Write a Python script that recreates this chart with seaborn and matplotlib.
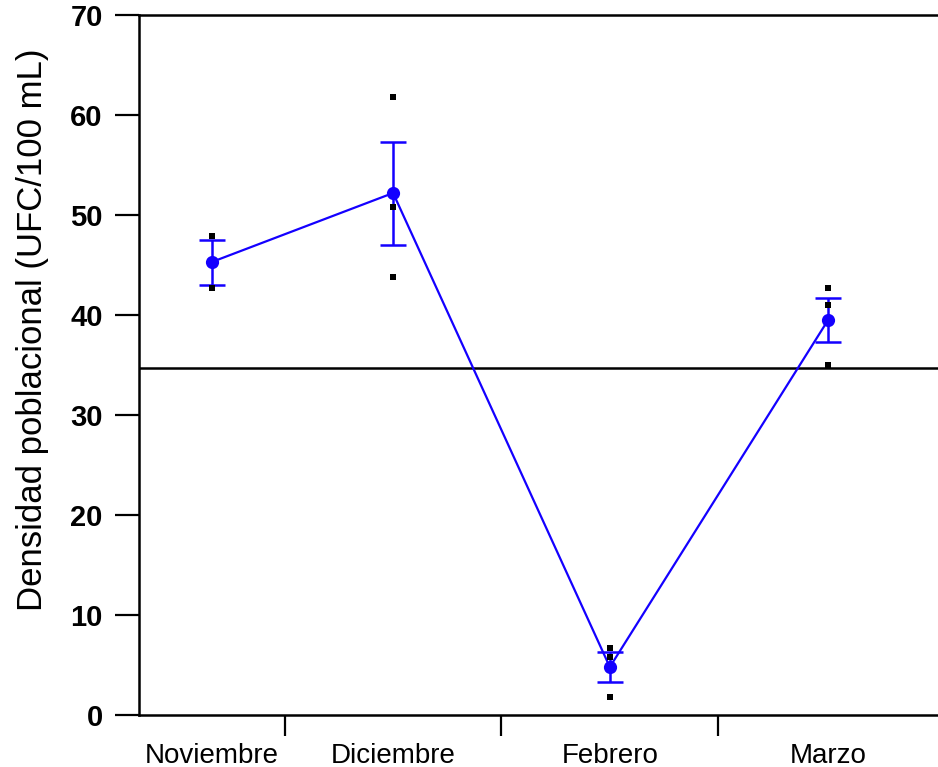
import matplotlib
matplotlib.use("Agg")
import matplotlib.pyplot as plt
import numpy as np
import pandas as pd
import seaborn as sns

# Muestreos mensuales
meses = ["Noviembre", "Diciembre", "Febrero", "Marzo"]
media = [45.3, 52.2, 4.8, 39.5]
error_est = [2.25, 5.15, 1.5, 2.2]
obs_mes = ["Noviembre", "Noviembre", "Diciembre", "Diciembre", "Diciembre",
           "Febrero", "Febrero", "Febrero", "Marzo", "Marzo", "Marzo"]
obs_valor = [47.9, 42.7, 61.8, 50.8, 43.8, 6.7, 5.8, 1.8, 42.7, 41.0, 35.0]
referencia = 34.7

sns.set_theme(style="white")
plt.rcParams["font.family"] = ["Liberation Sans", "DejaVu Sans"]
plt.rcParams["text.color"] = "black"
plt.rcParams["xtick.color"] = "black"
plt.rcParams["ytick.color"] = "black"
plt.rcParams["axes.labelcolor"] = "black"

fig = plt.figure(figsize=(9.38, 7.67), dpi=100)
ax = fig.add_axes([0.148, 0.0678, 0.852, 0.9126])

# límites de cada categoría en el eje x
xmin, xmax = -0.173, 3.514
bordes = [xmin, 0.5, 1.5, 2.5, xmax]
centros = [(bordes[i] + bordes[i + 1]) / 2 for i in range(len(meses))]
pos = dict(zip(meses, centros))

df = pd.DataFrame({"x": centros, "media": media, "se": error_est})
dobs = pd.DataFrame({"x": [pos[m] for m in obs_mes], "valor": obs_valor})

azul = "#1400ff"
ax.axhline(referencia, color="black", lw=1.8, zorder=1)
ax.errorbar(df["x"], df["media"], yerr=df["se"], fmt="none", ecolor=azul,
            elinewidth=1.8, capsize=9.5, capthick=1.8, zorder=2)
sns.lineplot(data=df, x="x", y="media", color=azul, lw=1.6, marker="o",
             markersize=9.5, markeredgewidth=0, ax=ax, zorder=3)
sns.scatterplot(data=dobs, x="x", y="valor", color="black", marker="s",
                s=22, linewidth=0, ax=ax, zorder=4)

ax.set_xlim(xmin, xmax)
ax.set_ylim(0, 70)
ax.set_yticks(range(0, 71, 10))
ax.set_xticks(centros)
ax.set_xticklabels(meses, fontsize=20)
ax.set_xticks([0.5, 1.5, 2.5], minor=True)
ax.tick_params(axis="x", which="major", length=0, pad=20, labelcolor="black")
ax.tick_params(axis="x", which="minor", bottom=True, length=15, width=1.6,
               color="black", direction="out")
ax.tick_params(axis="y", left=True, length=17, width=1.6, color="black",
               direction="out", pad=9, labelcolor="black")
for t in ax.get_yticklabels():
    t.set_fontweight("bold")
    t.set_fontsize(21)

for lado in ["left", "bottom", "top"]:
    ax.spines[lado].set_visible(True)
    ax.spines[lado].set_color("black")
    ax.spines[lado].set_linewidth(1.8)
ax.spines["right"].set_visible(False)

ax.set_xlabel("")
ax.set_ylabel("Densidad poblacional (UFC/100 mL)", fontsize=25,
              color="black")
ax.yaxis.set_label_coords(-0.112, 0.55)

fig.savefig("out.png", dpi=100)
